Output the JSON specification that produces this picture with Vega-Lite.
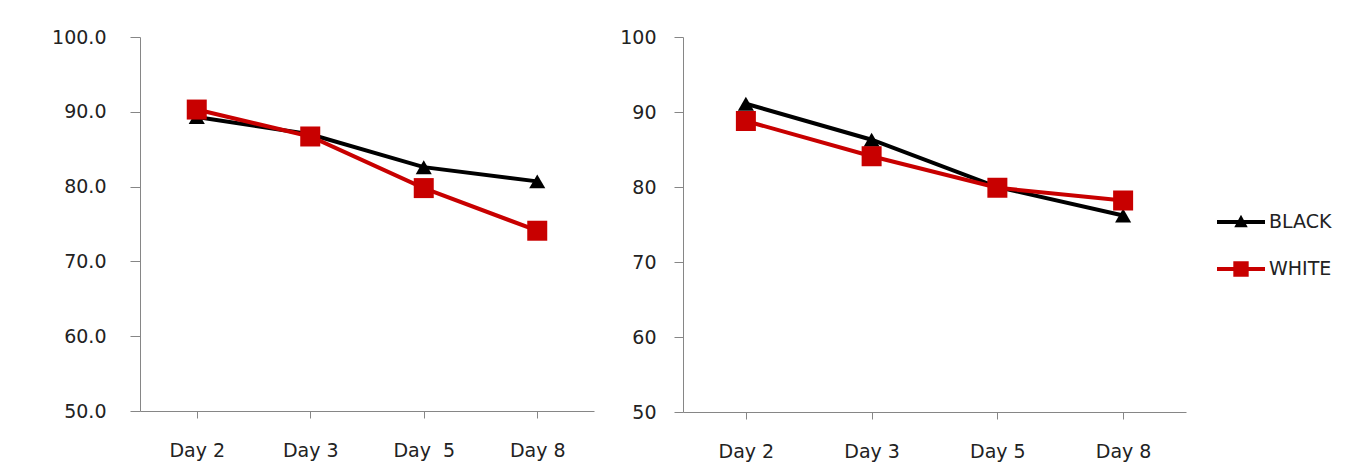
{
  "$schema": "https://vega.github.io/schema/vega-lite/v6.json",
  "background": "white",
  "padding": {"left": 51, "top": 28, "right": 5, "bottom": 5},
  "spacing": 25,
  "config": {
    "view": {"stroke": null},
    "font": "DejaVu Sans",
    "axis": {
      "grid": false,
      "title": null,
      "domainColor": "#868686",
      "tickColor": "#868686",
      "labelColor": "#222222",
      "labelFont": "DejaVu Sans",
      "labelFontSize": 19
    },
    "legend": {
      "orient": "none", "legendX": 1077, "legendY": 161, "title": null, "padding": 0,
      "symbolSize": 2304, "labelFontSize": 19, "labelFont": "DejaVu Sans", "labelColor": "#222222",
      "labelOffset": 4, "rowPadding": 13
    }
  },
  "datasets": {
    "left": [
      {"day": "Day 2", "series": "BLACK", "value": 89.3},
      {"day": "Day 3", "series": "BLACK", "value": 87.0},
      {"day": "Day\u00a0 5", "series": "BLACK", "value": 82.6},
      {"day": "Day 8", "series": "BLACK", "value": 80.7},
      {"day": "Day 2", "series": "WHITE", "value": 90.3},
      {"day": "Day 3", "series": "WHITE", "value": 86.7},
      {"day": "Day\u00a0 5", "series": "WHITE", "value": 79.8},
      {"day": "Day 8", "series": "WHITE", "value": 74.1}
    ],
    "right": [
      {"day": "Day 2", "series": "BLACK", "value": 91.1},
      {"day": "Day 3", "series": "BLACK", "value": 86.3},
      {"day": "Day 5", "series": "BLACK", "value": 80.0},
      {"day": "Day 8", "series": "BLACK", "value": 76.2},
      {"day": "Day 2", "series": "WHITE", "value": 88.8},
      {"day": "Day 3", "series": "WHITE", "value": 84.1},
      {"day": "Day 5", "series": "WHITE", "value": 79.9},
      {"day": "Day 8", "series": "WHITE", "value": 78.2}
    ]
  },
  "hconcat": [
    {
      "width": 454,
      "height": 374,
      "data": {"name": "left"},
      "encoding": {
        "x": {"field": "day", "type": "nominal", "sort": null,
          "axis": {"labelAngle": 0, "tickSize": 7, "labelPadding": 23}},
        "y": {"field": "value", "type": "quantitative",
          "scale": {"domain": [50, 100], "nice": false, "zero": false},
          "axis": {"values": [50, 60, 70, 80, 90, 100], "format": ".1f", "tickSize": 10, "labelPadding": 24}},
        "color": {"field": "series", "type": "nominal",
          "scale": {"domain": ["BLACK", "WHITE"], "range": ["#000000", "#c80000"]},
          "legend": {
            "encoding": {"symbols": {
              "shape": {"value": {"expr": "datum.value === 'BLACK' ? 'M-1,-0.085H1V0.085H-1Z M0,-0.3L0.28,0.22H-0.28Z' : 'M-1,-0.085H1V0.085H-1Z M-0.32,-0.32H0.32V0.32H-0.32Z'"}},
              "size": {"value": 2304},
              "strokeWidth": {"value": 0},
              "opacity": {"value": 1}
            }}
          }}
      },
      "layer": [
        {"mark": {"type": "line", "strokeWidth": 4}},
        {"transform": [{"filter": "datum.series === 'BLACK'"}],
          "mark": {"type": "point", "filled": true, "opacity": 1, "shape": "triangle-up", "size": 260}},
        {"transform": [{"filter": "datum.series === 'WHITE'"}],
          "mark": {"type": "point", "filled": true, "opacity": 1, "shape": "square", "size": 400}}
      ]
    },
    {
      "width": 503,
      "height": 375,
      "data": {"name": "right"},
      "encoding": {
        "x": {"field": "day", "type": "nominal", "sort": null,
          "axis": {"labelAngle": 0, "tickSize": 7, "labelPadding": 23}},
        "y": {"field": "value", "type": "quantitative",
          "scale": {"domain": [50, 100], "nice": false, "zero": false},
          "axis": {"values": [50, 60, 70, 80, 90, 100], "format": "d", "tickSize": 9, "labelPadding": 18}},
        "color": {"field": "series", "type": "nominal",
          "scale": {"domain": ["BLACK", "WHITE"], "range": ["#000000", "#c80000"]},
          "legend": {
            "encoding": {"symbols": {
              "shape": {"value": {"expr": "datum.value === 'BLACK' ? 'M-1,-0.085H1V0.085H-1Z M0,-0.3L0.28,0.22H-0.28Z' : 'M-1,-0.085H1V0.085H-1Z M-0.32,-0.32H0.32V0.32H-0.32Z'"}},
              "size": {"value": 2304},
              "strokeWidth": {"value": 0},
              "opacity": {"value": 1}
            }}
          }}
      },
      "layer": [
        {"mark": {"type": "line", "strokeWidth": 4}},
        {"transform": [{"filter": "datum.series === 'BLACK'"}],
          "mark": {"type": "point", "filled": true, "opacity": 1, "shape": "triangle-up", "size": 260}},
        {"transform": [{"filter": "datum.series === 'WHITE'"}],
          "mark": {"type": "point", "filled": true, "opacity": 1, "shape": "square", "size": 400}}
      ]
    }
  ]
}
